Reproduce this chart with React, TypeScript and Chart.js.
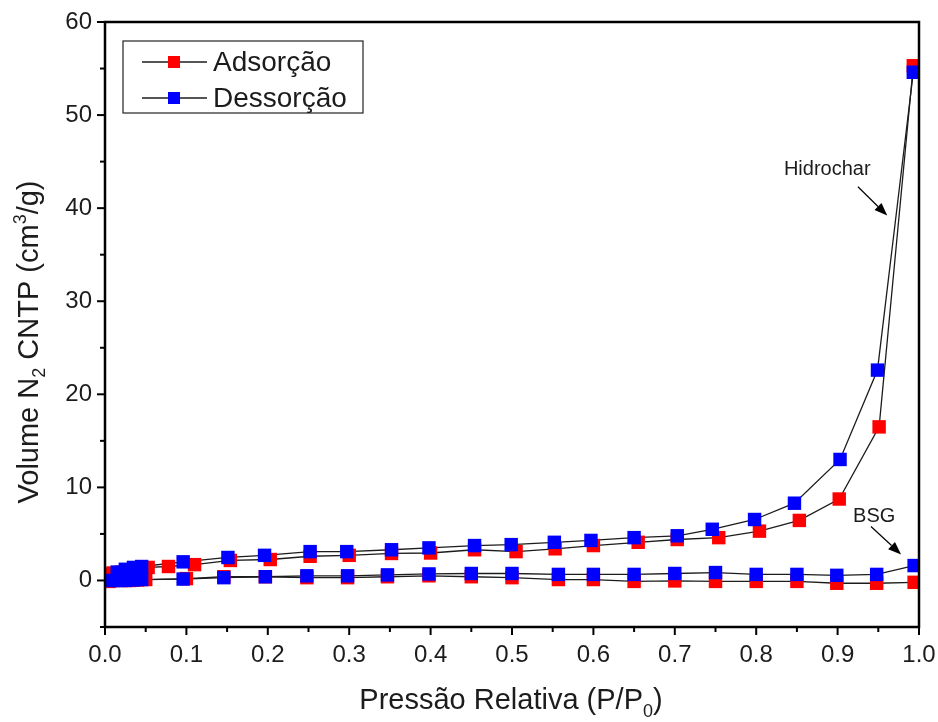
import React, { useEffect, useRef } from 'react';
import { Chart, registerables } from 'chart.js';

Chart.register(...registerables);

// Hidrochar – adsorption branch (P/P0, cm³/g)
const hidroAdsP = [0.005, 0.01, 0.02, 0.03, 0.04, 0.053, 0.078, 0.11, 0.154, 0.203, 0.252, 0.3, 0.352, 0.4, 0.454, 0.505, 0.553, 0.6, 0.655, 0.703, 0.754, 0.804, 0.853, 0.902, 0.951, 0.993];
const hidroAdsV = [0.7, 0.8, 0.9, 1.0, 1.2, 1.4, 1.5, 1.7, 2.15, 2.25, 2.6, 2.7, 2.9, 2.95, 3.3, 3.1, 3.4, 3.75, 4.1, 4.4, 4.6, 5.3, 6.45, 8.75, 16.5, 55.3];

// Hidrochar – desorption branch
const hidroDesP = [0.993, 0.949, 0.903, 0.847, 0.798, 0.746, 0.703, 0.65, 0.597, 0.552, 0.499, 0.454, 0.398, 0.352, 0.297, 0.252, 0.196, 0.151, 0.096, 0.045, 0.035, 0.025, 0.015];
const hidroDesV = [54.6, 22.6, 13.0, 8.3, 6.55, 5.5, 4.8, 4.6, 4.3, 4.1, 3.85, 3.75, 3.5, 3.3, 3.1, 3.1, 2.7, 2.47, 2.0, 1.5, 1.4, 1.2, 0.9];

// BSG – adsorption branch
const bsgAdsP = [0.005, 0.01, 0.02, 0.03, 0.04, 0.05, 0.1, 0.146, 0.197, 0.248, 0.298, 0.347, 0.398, 0.45, 0.5, 0.557, 0.6, 0.65, 0.7, 0.75, 0.8, 0.85, 0.899, 0.948, 0.994];
const bsgAdsV = [-0.1, 0.0, 0.0, 0.0, 0.05, 0.1, 0.2, 0.4, 0.4, 0.3, 0.3, 0.4, 0.5, 0.4, 0.3, 0.1, 0.1, -0.1, -0.05, -0.1, -0.1, -0.1, -0.3, -0.3, -0.2];

// BSG – desorption branch
const bsgDesP = [0.994, 0.948, 0.899, 0.85, 0.8, 0.75, 0.7, 0.65, 0.6, 0.557, 0.5, 0.45, 0.398, 0.347, 0.298, 0.248, 0.197, 0.146, 0.096, 0.045, 0.035, 0.025, 0.015, 0.008];
const bsgDesV = [1.6, 0.65, 0.55, 0.65, 0.65, 0.85, 0.75, 0.65, 0.65, 0.65, 0.75, 0.75, 0.7, 0.6, 0.5, 0.5, 0.4, 0.3, 0.15, 0.1, 0.05, 0.0, 0.0, 0.0];

// Axis ranges and tick steps
const xMin = 0;
const xMax = 1;
const xMajor = 0.1;
const xMinor = 0.05;
const yMin = -5;
const yMax = 60;
const yMajor = 10;
const yMinor = 5;

const legendLabels = ['Adsorção', 'Dessorção'];
const sampleLabels = ['Hidrochar', 'BSG'];

const RED = '#ff0000';
const BLUE = '#0000ff';
const INK = '#1c1c1c';
const SANS = '"Liberation Sans", Arial, sans-serif';

const pts = (xs: number[], ys: number[]) => xs.map((x, i) => ({ x, y: ys[i] }));

type Seg = { t: string; size: number; dy: number };

function drawRich(ctx: CanvasRenderingContext2D, segs: Seg[], cx: number, baseY: number) {
  let total = 0;
  for (const s of segs) {
    ctx.font = `${s.size}px ${SANS}`;
    total += ctx.measureText(s.t).width;
  }
  let x = cx - total / 2;
  ctx.textAlign = 'left';
  ctx.textBaseline = 'alphabetic';
  for (const s of segs) {
    ctx.font = `${s.size}px ${SANS}`;
    ctx.fillText(s.t, x, baseY + s.dy);
    x += ctx.measureText(s.t).width;
  }
}

function arrow(ctx: CanvasRenderingContext2D, x1: number, y1: number, x2: number, y2: number) {
  const ang = Math.atan2(y2 - y1, x2 - x1);
  const head = 13;
  const half = 5;
  const bx = x2 - head * Math.cos(ang);
  const by = y2 - head * Math.sin(ang);
  ctx.strokeStyle = '#000';
  ctx.lineWidth = 1.2;
  ctx.beginPath();
  ctx.moveTo(x1, y1);
  ctx.lineTo(bx, by);
  ctx.stroke();
  ctx.fillStyle = '#000';
  ctx.beginPath();
  ctx.moveTo(x2, y2);
  ctx.lineTo(bx + half * Math.sin(ang), by - half * Math.cos(ang));
  ctx.lineTo(bx - half * Math.sin(ang), by + half * Math.cos(ang));
  ctx.closePath();
  ctx.fill();
}

const decorPlugin = {
  id: 'isothermDecor',
  afterDraw(chart: any) {
    const ctx: CanvasRenderingContext2D = chart.ctx;
    const { left, right, top, bottom } = chart.chartArea;
    const xs = chart.scales.x;
    const ys = chart.scales.y;
    ctx.save();

    // frame
    ctx.strokeStyle = '#000';
    ctx.lineWidth = 2.5;
    ctx.strokeRect(left, top, right - left, bottom - top);

    // tick marks, pointing outward
    ctx.lineWidth = 2;
    const nx = Math.round((xMax - xMin) / xMinor);
    for (let i = 0; i <= nx; i++) {
      const v = xMin + i * xMinor;
      const px = xs.getPixelForValue(v);
      const len = i % Math.round(xMajor / xMinor) === 0 ? 8 : 5;
      ctx.beginPath();
      ctx.moveTo(px, bottom);
      ctx.lineTo(px, bottom + len);
      ctx.stroke();
    }
    const ny = Math.round((yMax - yMin) / yMinor);
    for (let i = 0; i <= ny; i++) {
      const v = yMin + i * yMinor;
      const py = ys.getPixelForValue(v);
      const len = v % yMajor === 0 ? 8 : 5;
      ctx.beginPath();
      ctx.moveTo(left, py);
      ctx.lineTo(left - len, py);
      ctx.stroke();
    }

    // axis titles
    ctx.fillStyle = INK;
    drawRich(
      ctx,
      [
        { t: 'Pressão Relativa (P/P', size: 29, dy: 0 },
        { t: '0', size: 18, dy: 8 },
        { t: ')', size: 29, dy: 0 },
      ],
      511,
      709
    );
    ctx.save();
    ctx.translate(38, 342);
    ctx.rotate(-Math.PI / 2);
    drawRich(
      ctx,
      [
        { t: 'Volume N', size: 29, dy: 0 },
        { t: '2', size: 18, dy: 7 },
        { t: ' CNTP (cm', size: 29, dy: 0 },
        { t: '3', size: 18, dy: -12 },
        { t: '/g)', size: 29, dy: 0 },
      ],
      0,
      0
    );
    ctx.restore();

    // legend
    const bx = 123, by = 41, bw = 240, bh = 72;
    ctx.fillStyle = '#fff';
    ctx.fillRect(bx, by, bw, bh);
    ctx.strokeStyle = '#333';
    ctx.lineWidth = 1.3;
    ctx.strokeRect(bx, by, bw, bh);
    const rows = [62, 98];
    const cols = [RED, BLUE];
    rows.forEach((ry, i) => {
      ctx.strokeStyle = INK;
      ctx.lineWidth = 1.3;
      ctx.beginPath();
      ctx.moveTo(142, ry);
      ctx.lineTo(207, ry);
      ctx.stroke();
      ctx.fillStyle = cols[i];
      ctx.fillRect(168, ry - 6, 12, 12);
      ctx.fillStyle = INK;
      ctx.font = `28px ${SANS}`;
      ctx.textAlign = 'left';
      ctx.textBaseline = 'middle';
      ctx.fillText(legendLabels[i], 213, ry + 1);
    });

    // sample annotations
    ctx.font = `20px ${SANS}`;
    ctx.textAlign = 'left';
    ctx.textBaseline = 'alphabetic';
    ctx.fillStyle = INK;
    ctx.fillText(sampleLabels[0], xs.getPixelForValue(0.834), ys.getPixelForValue(43.6));
    arrow(ctx, xs.getPixelForValue(0.925), ys.getPixelForValue(42.3), xs.getPixelForValue(0.961), ys.getPixelForValue(39.2));
    ctx.fillStyle = INK;
    ctx.font = `20px ${SANS}`;
    ctx.fillText(sampleLabels[1], xs.getPixelForValue(0.919), ys.getPixelForValue(6.3));
    arrow(ctx, xs.getPixelForValue(0.941), ys.getPixelForValue(5.8), xs.getPixelForValue(0.978), ys.getPixelForValue(2.8));

    ctx.restore();
  },
};

export default function App() {
  const ref = useRef<HTMLCanvasElement | null>(null);

  useEffect(() => {
    if (!ref.current) return;
    const lineDs = (data: { x: number; y: number }[]) => ({
      type: 'line' as const,
      data,
      showLine: true,
      borderColor: INK,
      borderWidth: 1.3,
      pointRadius: 0,
      fill: false,
      tension: 0,
      order: 10,
    });
    const markDs = (data: { x: number; y: number }[], color: string, order: number) => ({
      type: 'scatter' as const,
      data,
      showLine: false,
      pointStyle: 'rect',
      pointRadius: 9.5,
      pointBackgroundColor: color,
      pointBorderColor: color,
      pointBorderWidth: 0,
      order,
    });

    const hA = pts(hidroAdsP, hidroAdsV);
    const hD = pts(hidroDesP, hidroDesV);
    const bA = pts(bsgAdsP, bsgAdsV);
    const bD = pts(bsgDesP, bsgDesV);

    const chart = new Chart(ref.current, {
      type: 'scatter',
      data: {
        datasets: [
          lineDs(hA),
          lineDs(hD),
          lineDs(bA),
          lineDs(bD),
          markDs(bA, RED, 5),
          markDs(hA, RED, 5),
          markDs(bD, BLUE, 1),
          markDs(hD, BLUE, 1),
        ] as any,
      },
      options: {
        animation: false,
        responsive: false,
        devicePixelRatio: 1,
        layout: { padding: { top: 22, right: 19, left: 0, bottom: 0 } },
        plugins: { legend: { display: false }, tooltip: { enabled: false } },
        scales: {
          x: {
            type: 'linear',
            min: xMin,
            max: xMax,
            grid: { display: false, drawTicks: false, tickLength: 0 },
            border: { display: false },
            ticks: {
              stepSize: xMajor,
              autoSkip: false,
              maxRotation: 0,
              padding: 14,
              color: INK,
              font: { family: SANS, size: 24 },
              callback: (v: any) => Number(v).toFixed(1),
            },
            afterFit: (s: any) => {
              s.height = 95;
              s.paddingLeft = 0;
              s.paddingRight = 0;
            },
          },
          y: {
            type: 'linear',
            min: yMin,
            max: yMax,
            grid: { display: false, drawTicks: false, tickLength: 0 },
            border: { display: false },
            ticks: {
              stepSize: yMinor,
              autoSkip: false,
              padding: 13,
              color: INK,
              font: { family: SANS, size: 24 },
              callback: (v: any) => (Number(v) % yMajor === 0 ? String(v) : ''),
            },
            afterFit: (s: any) => {
              s.width = 105;
              s.paddingTop = 0;
              s.paddingBottom = 0;
            },
          },
        },
      } as any,
      plugins: [decorPlugin],
    });
    return () => chart.destroy();
  }, []);

  return (
    <div style={{ position: 'absolute', left: 0, top: 0, width: 938, height: 722, background: '#fff' }}>
      <canvas ref={ref} width={938} height={722} />
    </div>
  );
}
